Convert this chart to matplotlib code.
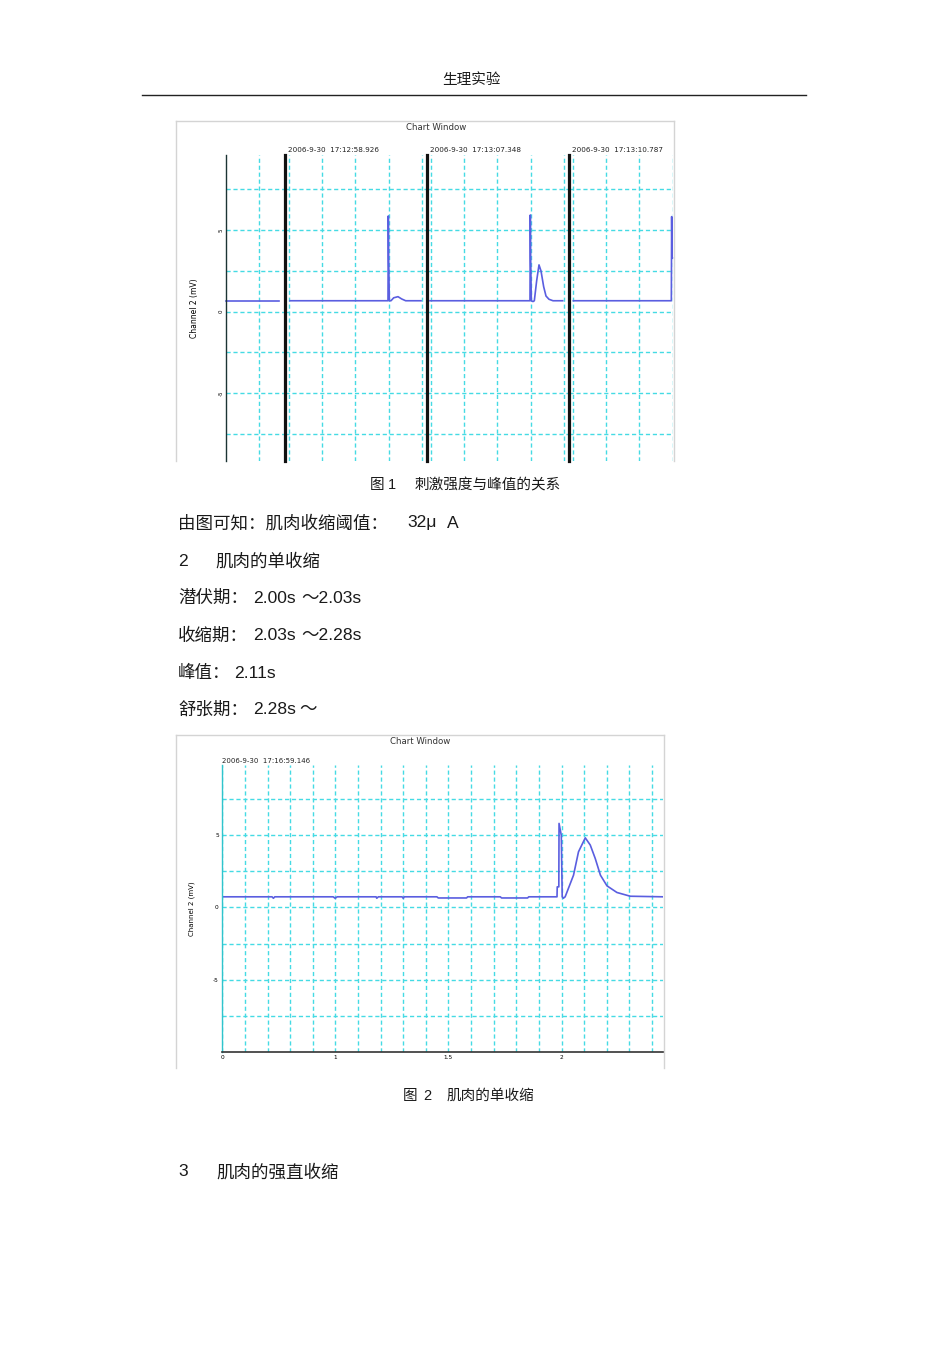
import numpy as np
import matplotlib
matplotlib.use("Agg")
import matplotlib.pyplot as plt
from matplotlib.lines import Line2D

plt.rcParams['font.family'] = ['Liberation Sans', 'Noto Sans CJK SC', 'DejaVu Sans']

W, H = 950, 1345

# ---- figure 1: four sweeps (local time in s, voltage in mV) ----
sweep0_t = [0.0, 0.161]
sweep0_v = [0.67, 0.67]
sweep1_t = [0.015, 0.309, 0.310, 0.311, 0.313, 0.318, 0.326, 0.339, 0.350, 0.362, 0.408]
sweep1_v = [0.67, 0.67, 5.87, 3.29, 0.67, 0.67, 0.85, 0.92, 0.78, 0.67, 0.67]
sweep2_t = [0.009, 0.309, 0.310, 0.311, 0.313, 0.318, 0.322, 0.329, 0.336, 0.342,
            0.350, 0.357, 0.366, 0.378, 0.407]
sweep2_v = [0.67, 0.67, 5.93, 3.29, 0.67, 0.62, 0.67, 1.90, 2.87, 2.50,
            1.53, 0.96, 0.76, 0.67, 0.67]
sweep3_t = [0.013, 0.307, 0.308, 0.309, 0.310]
sweep3_v = [0.67, 0.67, 5.83, 3.30, 3.30]
sweep_dates = ["2006-9-30  17:12:58.926", "2006-9-30  17:13:07.348",
               "2006-9-30  17:13:10.787"]

# ---- figure 2: single twitch ----
twitch_t = [0.50, 0.72, 0.726, 0.732, 0.99, 0.999, 1.008, 1.18, 1.183, 1.19,
            1.295, 1.30, 1.305, 1.449, 1.455, 1.58, 1.585, 1.729, 1.735, 1.85,
            1.855, 1.980, 1.981, 1.988, 1.989, 1.999, 2.003, 2.008, 2.016,
            2.053, 2.075, 2.105, 2.127, 2.149, 2.172, 2.201, 2.245, 2.304, 2.451]
twitch_v = [0.74, 0.74, 0.64, 0.74, 0.74, 0.64, 0.74, 0.74, 0.64, 0.74,
            0.74, 0.64, 0.74, 0.74, 0.66, 0.66, 0.74, 0.74, 0.66, 0.66,
            0.74, 0.74, 1.43, 1.43, 5.83, 5.0, 0.74, 0.64, 0.74,
            2.24, 3.86, 4.83, 4.33, 3.40, 2.24, 1.50, 1.04, 0.78, 0.74]
twitch_xticks = [0.5, 1.0, 1.5, 2.0]
twitch_xlabels = ["0", "1", "1.5", "2"]
volt_ticks = [-5, 0, 5]
volt_labels = ["-5", "0", "5"]
twitch_date = "2006-9-30  17:16:59.146"

GRID = '#45dbe4'
TRACE = '#5a5ee0'


def box(x0, y0, x1, y1):
    return [x0 / W, 1 - y1 / H, (x1 - x0) / W, (y1 - y0) / H]


def put(x, y, s, size, ha='left'):
    fig.text(x / W, 1 - y / H, s, fontsize=size, ha=ha, va='center', color='#1a1a1a')


def frame(x0, y0, x1, y1, title, tx, ty):
    fr = fig.add_axes(box(x0, y0, x1, y1))
    fr.set_xticks([])
    fr.set_yticks([])
    for side in ['left', 'top', 'right']:
        fr.spines[side].set_color('#d4d4d4')
        fr.spines[side].set_linewidth(1.0)
    fr.spines['bottom'].set_visible(False)
    fr.patch.set_alpha(0)
    fig.text(tx / W, 1 - ty / H, title, fontsize=6.2, family='DejaVu Sans',
             ha='center', va='center', color='#333333')


def grid_style(ax):
    ax.grid(True, which='both', color=GRID, linestyle=(0, (3, 2)), linewidth=1.0)
    ax.set_axisbelow(True)


fig = plt.figure(figsize=(W / 100, H / 100), dpi=100)

# header
put(471, 80, "生理实验", 10.5, ha='center')
fig.add_artist(Line2D([142 / W, 806 / W], [1 - 95 / H, 1 - 95 / H], color='#222222', lw=1.0))

# ---------- chart 1 ----------
frame(176, 121, 674, 461, "Chart Window", 436, 128)
ylim1 = (-9.16, 9.61)
hgrid = [-7.5, -5, -2.5, 0, 2.5, 5, 7.5]
sweeps = [(sweep0_t, sweep0_v, 225.7, 285, 0.178, [0.1]),
          (sweep1_t, sweep1_v, 285, 427, 0.426, [0.011, 0.111, 0.211, 0.311, 0.411]),
          (sweep2_t, sweep2_v, 427, 569, 0.426, [0.011, 0.111, 0.211, 0.311, 0.411]),
          (sweep3_t, sweep3_v, 569, 673, 0.312, [0.011, 0.111, 0.211, 0.311])]
for i, (t, v, x0, x1, span, vgrid) in enumerate(sweeps):
    ax = fig.add_axes(box(x0, 155, x1, 461))
    ax.set_xlim(0, span)
    ax.set_ylim(*ylim1)
    ax.patch.set_alpha(0)
    ax.set_xticks(vgrid)
    ax.set_yticks(hgrid)
    ax.tick_params(length=0, labelbottom=False)
    for side in ['top', 'right', 'bottom']:
        ax.spines[side].set_visible(False)
    if i == 0:
        ax.spines['left'].set_color('#1c3434')
        ax.spines['left'].set_linewidth(1.0)
        ax.set_yticklabels(["" if y not in volt_ticks else str(int(y)) for y in hgrid],
                           fontsize=4, family='DejaVu Sans', rotation=90, va='center')
        ax.tick_params(axis='y', pad=1.5)
        ax.set_ylabel("Channel 2 (mV)", fontsize=5.5, family='DejaVu Sans', labelpad=14)
    else:
        ax.spines['left'].set_color('#111111')
        ax.spines['left'].set_linewidth(2.3)
        ax.set_yticklabels([])
        fig.text((x0 + 3) / W, 1 - 150 / H, sweep_dates[i - 1], fontsize=5.2,
                 family='DejaVu Sans', ha='left', va='center', color='#222222')
    grid_style(ax)
    ax.plot(t, v, color=TRACE, lw=1.2, clip_on=False)

put(370, 485, "图", 10.5)
put(388, 485, "1", 10.5)
put(415, 485, "刺激强度与峰值的关系", 10.5)

# ---------- body text ----------
fs = 12.6
put(178, 523, "由图可知：肌肉收缩阈值：", fs)
put(407, 523, "32μ", fs)
put(446.5, 523, "A", fs)
put(178, 561, "2", fs)
put(215, 561, "肌肉的单收缩", fs)
put(178, 598, "潜伏期：", fs)
put(253, 598, "2.00s", fs)
put(301, 598, "～2.03s", fs)
put(178, 636, "收缩期：", fs)
put(253, 636, "2.03s", fs)
put(301, 636, "～2.28s", fs)
put(178, 673, "峰值：", fs)
put(234, 673, "2.11s", fs)
put(178, 710, "舒张期：", fs)
put(253, 710, "2.28s", fs)
put(299, 710, "～", fs)

# ---------- chart 2 ----------
frame(176, 735, 664, 1068, "Chart Window", 420, 741.5)
ax2 = fig.add_axes(box(222.3, 765, 663.3, 1051.7))
ax2.set_xlim(0.5, 2.45)
ax2.set_ylim(-10, 9.88)
ax2.patch.set_alpha(0)
ax2.set_xticks(twitch_xticks)
ax2.set_xticklabels(twitch_xlabels, fontsize=4.2, family='DejaVu Sans')
ax2.set_xticks(np.arange(0.6, 2.45, 0.1), minor=True)
ax2.set_yticks(volt_ticks)
ax2.set_yticklabels(volt_labels, fontsize=4.2, family='DejaVu Sans')
ax2.set_yticks(hgrid, minor=True)
ax2.tick_params(which='both', length=0, pad=2.5)
ax2.spines['top'].set_visible(False)
ax2.spines['right'].set_visible(False)
ax2.spines['left'].set_color('#30c4cc')
ax2.spines['left'].set_linewidth(1.0)
ax2.spines['bottom'].set_color('#333333')
ax2.spines['bottom'].set_linewidth(1.2)
ax2.set_ylabel("Channel 2 (mV)", fontsize=5, family='DejaVu Sans', labelpad=13)
grid_style(ax2)
ax2.plot(twitch_t, twitch_v, color=TRACE, lw=1.2)
fig.text(222 / W, 1 - 761 / H, twitch_date, fontsize=5, family='DejaVu Sans',
         ha='left', va='center', color='#222222')

put(403, 1096, "图", 10.5)
put(423, 1096, "2", 10.5)
put(447, 1096, "肌肉的单收缩", 10.5)

put(178, 1172, "3", fs)
put(216.5, 1172, "肌肉的强直收缩", fs)

fig.savefig("out.png", dpi=100)
